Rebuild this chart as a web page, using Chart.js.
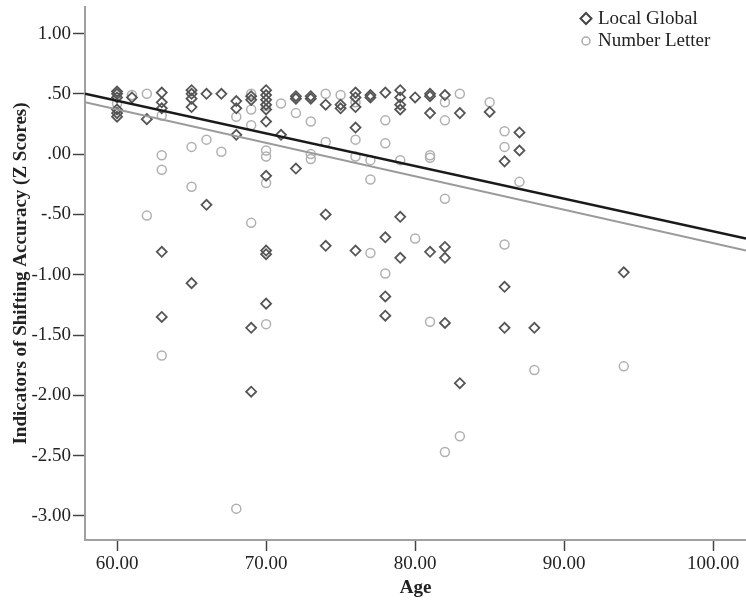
<!DOCTYPE html>
<html>
<head>
<meta charset="utf-8">
<script src="https://cdn.jsdelivr.net/npm/chart.js@4.4.0/dist/chart.umd.min.js"></script>
<style>
  html, body { margin: 0; padding: 0; background: #fff; }
  #wrap { width: 746px; height: 601px; }
</style>
</head>
<body>
<div id="wrap"><canvas id="chart"></canvas></div>
<script>
// Local Global (diamonds)
const lgAge = [60,60,60,60,60,60, 61, 62, 63,63,63,63,63, 65,65,65,65,65, 66,66, 67, 68,68,68,
  69,69,69,69, 70,70,70,70,70,70,70,70,70,70, 71, 72,72,72, 73,73, 74,74,74, 75,75,
  76,76,76,76,76, 77,77, 78,78,78,78, 79,79,79,79,79,79, 80, 81,81,81,81, 82,82,82,82,
  83,83, 85, 86,86,86, 87,87, 88, 94];
const lgScore = [0.52,0.50,0.47,0.37,0.34,0.31, 0.47, 0.29, 0.51,0.43,0.38,-0.81,-1.35,
  0.53,0.50,0.46,0.39,-1.07, 0.50,-0.42, 0.50, 0.44,0.38,0.16,
  0.48,0.45,-1.44,-1.97, 0.53,0.49,0.45,0.41,0.37,0.27,-0.18,-0.80,-0.83,-1.24, 0.16,
  0.48,0.46,-0.12, 0.48,0.46, 0.41,-0.50,-0.76, 0.41,0.38,
  0.51,0.47,0.39,0.22,-0.80, 0.49,0.47, 0.51,-0.69,-1.18,-1.34, 0.53,0.47,0.41,0.37,-0.52,-0.86,
  0.47, 0.50,0.48,0.34,-0.81, 0.49,-0.77,-0.86,-1.40, 0.34,-1.90, 0.35, -0.06,-1.10,-1.44,
  0.18,0.03, -1.44, -0.98];

// Number Letter (circles)
const nlAge = [60,60, 61, 62,62, 63,63,63,63, 65,65, 66, 67, 68,68, 69,69,69,69,
  70,70,70,70,70, 71, 72, 73,73,73, 74,74, 75, 76,76,76, 77,77,77, 78,78,78, 79, 80,
  81,81,81, 82,82,82,82, 83,83, 85, 86,86,86, 87, 88, 94];
const nlScore = [0.50,0.42, 0.49, 0.50,-0.51, 0.32,-0.01,-0.13,-1.67, 0.06,-0.27, 0.12, 0.02,
  0.31,-2.94, 0.50,0.37,0.24,-0.57, 0.40,0.03,-0.02,-0.24,-1.41, 0.42, 0.34, 0.27,0.00,-0.04,
  0.50,0.10, 0.49, 0.43,0.12,-0.02, -0.05,-0.21,-0.82, 0.28,0.09,-0.99, -0.05, -0.70,
  -0.01,-0.03,-1.39, 0.43,0.28,-0.37,-2.47, 0.50,-2.34, 0.43, 0.19,0.06,-0.75, -0.23, -1.79, -1.76];

// fit lines (end points across the axis range)
const fitAge = [57.85, 102.2];
const lgFit = [0.50, -0.70];
const nlFit = [0.43, -0.80];

const xTicks = [60, 70, 80, 90, 100];
const yTicks = [1, 0.5, 0, -0.5, -1, -1.5, -2, -2.5, -3];

const FONT = "'Liberation Serif', 'Times New Roman', serif";

function toPoints(xs, ys) {
  return xs.map((x, i) => ({ x: x, y: ys[i] }));
}

// SPSS style: 1.00, .50, -.50
function fmt(v) {
  let s = Math.abs(v).toFixed(2);
  if (s.startsWith('0')) s = s.slice(1);
  return (v < 0 ? '-' : '') + s;
}

const legendPlugin = {
  id: 'spssLegend',
  afterDraw(chart) {
    const ctx = chart.ctx;
    ctx.save();
    ctx.font = '19px ' + FONT;
    ctx.fillStyle = '#222';
    ctx.textBaseline = 'middle';
    // diamond
    ctx.strokeStyle = '#444';
    ctx.lineWidth = 2;
    ctx.beginPath();
    ctx.moveTo(586, 13); ctx.lineTo(591.5, 18.5); ctx.lineTo(586, 24); ctx.lineTo(580.5, 18.5);
    ctx.closePath();
    ctx.stroke();
    ctx.fillText('Local Global', 598, 19);
    // circle
    ctx.strokeStyle = '#aaa';
    ctx.lineWidth = 1.5;
    ctx.beginPath();
    ctx.arc(586, 41, 4, 0, Math.PI * 2);
    ctx.stroke();
    ctx.fillText('Number Letter', 598, 41);
    ctx.restore();
  }
};

new Chart(document.getElementById('chart').getContext('2d'), {
  type: 'scatter',
  data: {
    datasets: [
      {
        type: 'line',
        label: 'Local Global fit',
        data: toPoints(fitAge, lgFit),
        showLine: true,
        borderColor: '#1a1a1a',
        borderWidth: 2.5,
        pointRadius: 0,
        order: 0
      },
      {
        type: 'line',
        label: 'Number Letter fit',
        data: toPoints(fitAge, nlFit),
        showLine: true,
        borderColor: '#9a9a9a',
        borderWidth: 2,
        pointRadius: 0,
        order: 1
      },
      {
        label: 'Local Global',
        data: toPoints(lgAge, lgScore),
        pointStyle: 'rectRot',
        pointRadius: 5,
        borderColor: '#555',
        borderWidth: 1.8,
        backgroundColor: 'rgba(0,0,0,0)',
        order: 2
      },
      {
        label: 'Number Letter',
        data: toPoints(nlAge, nlScore),
        pointStyle: 'circle',
        pointRadius: 4.5,
        borderColor: '#b0b0b0',
        borderWidth: 1.5,
        backgroundColor: 'rgba(0,0,0,0)',
        order: 3
      }
    ]
  },
  options: {
    responsive: true,
    maintainAspectRatio: false,
    animation: false,
    layout: { autoPadding: false, padding: { top: 7, right: 0, bottom: 0, left: 0 } },
    plugins: {
      legend: { display: false },
      tooltip: { enabled: false }
    },
    scales: {
      x: {
        type: 'linear',
        min: 57.85,
        max: 102.2,
        afterBuildTicks: (scale) => { scale.ticks = xTicks.map(v => ({ value: v })); },
        afterFit: (scale) => {
          scale.height = 61;
          scale.paddingLeft = 0;
          scale.paddingRight = 0;
        },
        border: { color: '#a0a0a0', width: 2 },
        grid: { drawOnChartArea: false, drawTicks: true, tickLength: 11, tickColor: '#444', tickWidth: 1.5 },
        ticks: {
          padding: 2,
          color: '#222',
          font: { family: FONT, size: 19 },
          callback: (v) => v.toFixed(2)
        },
        title: {
          display: true,
          text: 'Age',
          color: '#222',
          font: { family: FONT, size: 19, weight: 'bold' },
          padding: { top: 0, bottom: 2 }
        }
      },
      y: {
        type: 'linear',
        min: -3.20,
        max: 1.22,
        afterBuildTicks: (scale) => { scale.ticks = yTicks.map(v => ({ value: v })); },
        afterFit: (scale) => {
          scale.width = 85;
          scale.paddingTop = 0;
          scale.paddingBottom = 0;
        },
        border: { color: '#a0a0a0', width: 2 },
        grid: { drawOnChartArea: false, drawTicks: true, tickLength: 12, tickColor: '#444', tickWidth: 1.5 },
        ticks: {
          padding: 2,
          color: '#222',
          font: { family: FONT, size: 19 },
          callback: (v) => fmt(v)
        },
        title: {
          display: true,
          text: 'Indicators of Shifting Accuracy (Z Scores)',
          color: '#222',
          font: { family: FONT, size: 19, weight: 'bold' },
          padding: { top: 10, bottom: 0 }
        }
      }
    }
  },
  plugins: [legendPlugin]
});
</script>
</body>
</html>
